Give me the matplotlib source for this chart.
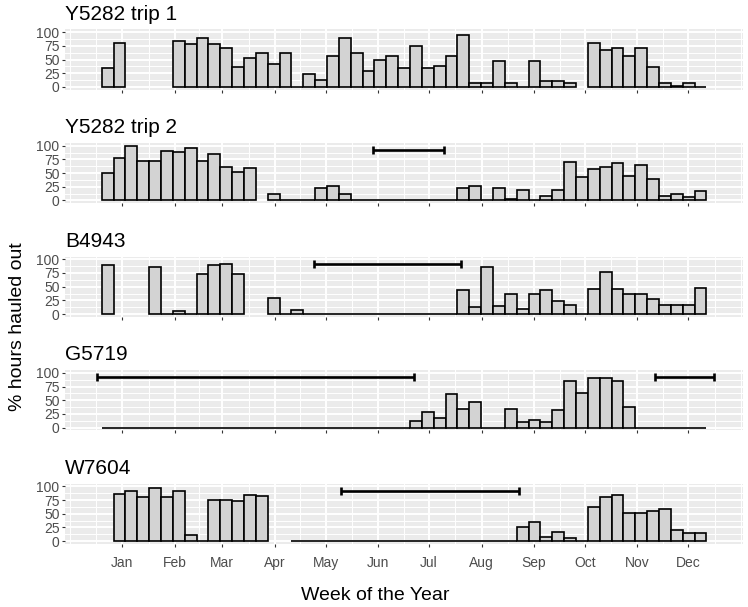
import numpy as np
import matplotlib
matplotlib.use('Agg')
import matplotlib.pyplot as plt

plt.rcParams['font.family'] = ['Liberation Sans', 'DejaVu Sans']

nan = np.nan

# week index of each bar (0 = first week shown, late Dec)
weeks = np.arange(0, 51)

# % hours hauled out per week, nan = no data
y5282_trip1 = [34, 81, nan, nan, nan, nan, 84, 78, 90, 78,
               71, 36, 52, 62, 41, 62, 0, 24, 12, 57,
               90, 62, 29, 50, 57, 34, 74, 34, 38, 57,
               94, 8, 8, 48, 8, 0, 48, 10, 10, 8,
               nan, 81, 67, 71, 57, 71, 36, 8, 2, 8, 0]
y5282_trip2 = [50, 78, 100, 72, 73, 90, 88, 95, 73, 85,
               61, 52, 59, nan, 11, 0, 0, 0, 23, 26,
               11, 0, 0, 0, 0, 0, 0, 0, 0, 0,
               23, 26, 0, 23, 2, 19, 0, 9, 19, 71,
               43, 57, 62, 69, 45, 64, 40, 9, 11, 7, 18]
b4943 = [90, nan, nan, nan, 86, 0, 6, 0, 74, 90,
         92, 74, nan, nan, 30, 0, 7, 0, 0, 0,
         0, 0, 0, 0, 0, 0, 0, 0, 0, 0,
         43, 12, 86, 15, 36, 9, 36, 43, 23, 16,
         0, 45, 76, 45, 36, 36, 27, 16, 16, 16, 48]
g5719 = [0, 0, 0, 0, 0, 0, 0, 0, 0, 0,
         0, 0, 0, 0, 0, 0, 0, 0, 0, 0,
         0, 0, 0, 0, 0, 0, 12, 29, 17, 62,
         34, 46, 0, 0, 34, 10, 14, 10, 32, 86,
         64, 90, 90, 86, 37, 0, 0, 0, 0, 0, 0]
w7604 = [nan, 87, 92, 80, 98, 80, 92, 12, 0, 76,
         76, 74, 84, 83, nan, nan, 0, 0, 0, 0,
         0, 0, 0, 0, 0, 0, 0, 0, 0, 0,
         0, 0, 0, 0, 0, 25, 35, 8, 17, 5,
         0, 62, 80, 84, 51, 51, 56, 58, 21, 15, 15]

# horizontal range bars (start week, end week)
gaps_trip1 = []
gaps_trip2 = [(22.4, 28.4)]
gaps_b4943 = [(17.43, 29.77)]
gaps_g5719 = [(-0.92, 25.86), (46.18, 51.16)]
gaps_w7604 = [(19.65, 34.71)]
gap_level = 92

titles = ['Y5282 trip 1', 'Y5282 trip 2', 'B4943', 'G5719', 'W7604']
series = [y5282_trip1, y5282_trip2, b4943, g5719, w7604]
gaps = [gaps_trip1, gaps_trip2, gaps_b4943, gaps_g5719, gaps_w7604]

months = ['Jan', 'Feb', 'Mar', 'Apr', 'May', 'Jun',
          'Jul', 'Aug', 'Sep', 'Oct', 'Nov', 'Dec']
month_start_day = [0, 31, 59, 90, 120, 151, 181, 212, 243, 273, 304, 334]

week_offset = 1.25
month_pos = [week_offset + d / 7.0 for d in month_start_day]
step = month_pos[1] - month_pos[0]
ext = [month_pos[0] - step] + month_pos + [month_pos[-1] + step]
minor_pos = ext + [(a + b) / 2 for a, b in zip(ext[:-1], ext[1:])]

W, H = 748, 607
fig = plt.figure(figsize=(W / 100, H / 100), dpi=100)

left_px, right_px = 65, 743
zero0, pitch, unit = 86.9, 113.56, 0.547

for i in range(5):
    zero_px = zero0 + pitch * i
    bottom_px = zero_px + 5 * unit
    height_px = 110 * unit
    ax = fig.add_axes([left_px / W, 1 - bottom_px / H,
                       (right_px - left_px) / W, height_px / H])
    ax.set_facecolor('#EBEBEB')
    for s in ax.spines.values():
        s.set_visible(False)

    for x in minor_pos:
        ax.axvline(x, color='white', lw=0.7, zorder=0)
    for x in month_pos:
        ax.axvline(x, color='white', lw=1.4, zorder=0)
    for yv in [12.5, 37.5, 62.5, 87.5]:
        ax.axhline(yv, color='white', lw=0.7, zorder=0)
    for yv in [0, 25, 50, 75, 100]:
        ax.axhline(yv, color='white', lw=1.4, zorder=0)

    vals = np.array(series[i], dtype=float)
    ok = ~np.isnan(vals)
    ax.bar(weeks[ok], vals[ok], width=1.0, color='#D3D3D3',
           edgecolor='black', linewidth=1.2, zorder=2)

    for (x0, x1) in gaps[i]:
        ax.plot([x0, x1], [gap_level, gap_level], color='black', lw=1.9,
                zorder=3, solid_capstyle='butt')
        ax.vlines([x0, x1], gap_level - 7, gap_level + 7, color='black',
                  lw=1.9, zorder=3)

    ax.set_xlim(-3.59, 53.58)
    ax.set_ylim(-5, 105)
    ax.set_yticks([0, 25, 50, 75, 100])
    ax.set_yticklabels(['0', '25', '50', '75', '100'])
    ax.set_xticks(month_pos)
    if i == 4:
        ax.set_xticklabels(months)
    else:
        ax.set_xticklabels([])
    ax.tick_params(axis='both', length=2.5, width=0.8, color='#333333',
                   labelcolor='#4D4D4D', labelsize=10)
    ax.tick_params(axis='y', pad=1.5)
    ax.tick_params(axis='x', pad=6)
    ax.set_title(titles[i], loc='left', fontsize=15, pad=7)

fig.text(375 / W, 1 - 596 / H, 'Week of the Year', ha='center', va='center',
         fontsize=14)
fig.text(18 / W, 1 - 327 / H, '% hours hauled out', ha='center', va='center',
         rotation=90, fontsize=14)

fig.savefig('out.png', dpi=100)
